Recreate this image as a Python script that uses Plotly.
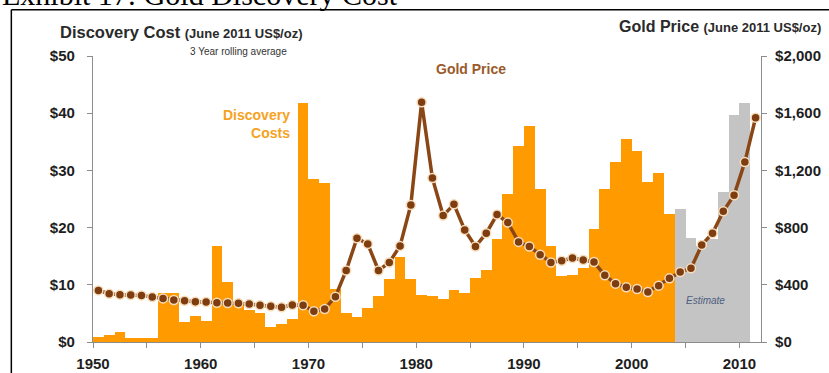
import plotly.graph_objects as go

# ---------------- data ----------------
cost_years = list(range(1950, 2011))
discovery_cost = [
    0.8, 1.3, 1.7, 0.7, 0.7, 0.7, 8.6, 8.6, 3.5, 4.6,      # 1950-1959
    3.7, 16.8, 10.5, 7.0, 5.6, 5.0, 2.7, 3.2, 4.0, 41.8,   # 1960-1969
    28.5, 27.8, 9.3, 5.1, 4.4, 6.0, 8.0, 11.0, 14.8, 11.1, # 1970-1979
    8.2, 8.0, 7.5, 9.1, 8.6, 11.2, 12.6, 18.0, 25.9, 34.2, # 1980-1989
    37.8, 26.7, 16.8, 11.6, 11.7, 13.0, 19.7, 26.7, 31.4, 35.5,  # 1990-1999
    33.4, 27.9, 29.5, 22.4, 23.3, 18.2, 16.8, 18.0, 26.2, 39.6,  # 2000-2009
    41.8,                                                   # 2010
]
estimate_from = 2004  # grey "Estimate" bars from this year on

gold_years = list(range(1950, 2012))
gold_price = [
    361, 338, 331, 329, 326, 315, 305, 294, 289, 282,      # 1950-1959
    280, 275, 273, 271, 266, 257, 250, 243, 259, 257,      # 1960-1969
    215, 231, 317, 500, 726, 686, 500, 556, 672, 958,      # 1970-1979
    1676, 1146, 884, 963, 784, 668, 761, 891, 835, 700,    # 1980-1989
    668, 610, 556, 568, 587, 573, 559, 466, 408, 382,      # 1990-1999
    371, 350, 394, 445, 489, 515, 679, 761, 914, 1026,     # 2000-2009
    1258, 1569,                                            # 2010-2011
]

x_tick_labels = [1950, 1960, 1970, 1980, 1990, 2000, 2010]
left_ticks = [0, 10, 20, 30, 40, 50]
right_ticks = [0, 400, 800, 1200, 1600, 2000]

# ---------------- styles ----------------
ORANGE = "#FF9A00"
GREY = "#C4C4C4"
BROWN = "#8A4715"
FONT = "Liberation Sans, Arial, sans-serif"

# plot area geometry (pixels) used for placing paper annotations
L, R, T, B = 92.7, 761.0, 55.5, 342.5
W, H = 829, 373


def px(x):
    return (x - L) / (R - L)


def py(y):
    return (B - y) / (B - T)


bar_colors = [GREY if y >= estimate_from else ORANGE for y in cost_years]

fig = go.Figure()
fig.add_trace(go.Bar(
    x=[y + 0.5 for y in cost_years],
    y=discovery_cost,
    width=1.0,
    marker=dict(color=bar_colors, line=dict(width=0)),
    hoverinfo="x+y",
    showlegend=False,
))
fig.add_trace(go.Scatter(
    x=[y + 0.5 for y in gold_years],
    y=gold_price,
    yaxis="y2",
    mode="lines+markers",
    line=dict(color=BROWN, width=3.5),
    marker=dict(size=9, color="#7E3D10", line=dict(color="#F6DDBB", width=1.5)),
    showlegend=False,
))

axis_common = dict(
    showgrid=False, zeroline=False, showline=True, linecolor="#8C8C8C",
    linewidth=1.2, ticks="outside", ticklen=5, tickcolor="#8C8C8C",
    automargin=False,
    tickfont=dict(family=FONT, size=15, color="#1E1E1E", weight="bold"),
)

fig.update_layout(
    width=W, height=H,
    margin=dict(l=L, r=W - R, t=T, b=H - B, pad=0, autoexpand=False),
    paper_bgcolor="white", plot_bgcolor="white",
    bargap=0,
    xaxis=dict(
        range=[1950, 2012],
        tickmode="array", tickvals=x_tick_labels,
        ticktext=[str(v) for v in x_tick_labels],
        minor=dict(ticks="outside", dtick=5, tick0=1950, ticklen=5, tickcolor="#8C8C8C"),
        ticklabelstandoff=3,
        **axis_common,
    ),
    yaxis=dict(
        range=[0, 50], tickmode="array", tickvals=left_ticks,
        ticktext=[f"${v}" for v in left_ticks],
        ticklabelstandoff=9,
        **axis_common,
    ),
    yaxis2=dict(
        range=[0, 2000], overlaying="y", side="right", anchor="x",
        tickmode="array", tickvals=right_ticks,
        ticktext=[f"${v:,}" for v in right_ticks],
        ticklabelstandoff=5,
        **axis_common,
    ),
)

annotations = [
    dict(text="Exhibit 17: Gold Discovery Cost", x=px(0), y=py(-6),
         xanchor="left", yanchor="middle",
         font=dict(family="Liberation Serif, Times New Roman, serif", size=30, color="black")),
    dict(text="<b>Discovery Cost</b> <b><span style='font-size:13px'>(June 2011 US$/oz)</span></b>",
         x=px(58), y=py(31), xanchor="left", yanchor="middle",
         font=dict(family=FONT, size=16.5, color="#2A2A2A")),
    dict(text="3 Year rolling average", x=px(238), y=py(51), xanchor="center", yanchor="middle",
         font=dict(family=FONT, size=10, color="#333333")),
    dict(text="<b>Gold Price</b> <b><span style='font-size:13px'>(June 2011 US$/oz)</span></b>",
         x=px(823), y=py(26), xanchor="right", yanchor="middle",
         font=dict(family=FONT, size=16, color="#2A2A2A")),
    dict(text="<b>Gold Price</b>", x=px(471), y=py(69), xanchor="center", yanchor="middle",
         font=dict(family=FONT, size=14, color="#9A5A2A")),
    dict(text="<b>Discovery<br>Costs</b>", x=px(292), y=py(124), xanchor="right", yanchor="middle",
         align="right", font=dict(family=FONT, size=14, color="#F5A21E")),
    dict(text="<i>Estimate</i>", x=px(705), y=py(301), xanchor="center", yanchor="middle",
         font=dict(family=FONT, size=10, color="#4E5E80")),
]
for a in annotations:
    a.update(xref="paper", yref="paper", showarrow=False)
fig.update_layout(annotations=annotations)

# black frame of the exhibit
fig.add_shape(type="line", xref="paper", yref="paper",
              x0=px(11), x1=px(840), y0=py(9), y1=py(9),
              line=dict(color="black", width=1.5))
fig.add_shape(type="line", xref="paper", yref="paper",
              x0=px(11), x1=px(11), y0=py(9), y1=py(380),
              line=dict(color="black", width=1.5))

fig.write_html("out.html")
